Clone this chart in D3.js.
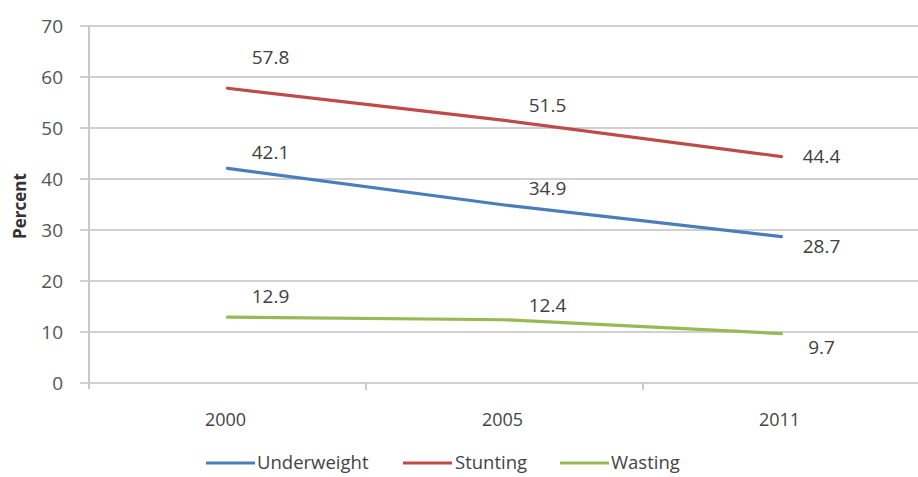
<!DOCTYPE html>
<html>
<head>
<meta charset="utf-8">
<script src="https://cdn.jsdelivr.net/npm/d3@7/dist/d3.min.js"></script>
<style>
  html, body { margin: 0; padding: 0; background: #fff; }
  svg { display: block; font-family: "Open Sans", "Liberation Sans", sans-serif; }
</style>
</head>
<body>
<svg id="chart" width="918" height="477"></svg>
<script>
// Child nutrition indicators by survey year
const years = ["2000", "2005", "2011"];
const underweight = [42.1, 34.9, 28.7];
const stunting = [57.8, 51.5, 44.4];
const wasting = [12.9, 12.4, 9.7];
const seriesNames = ["Underweight", "Stunting", "Wasting"];
const yTicks = [0, 10, 20, 30, 40, 50, 60, 70];

const series = [
  { name: seriesNames[0], values: underweight, color: "#4a7ebb", labelDy: [-16, -17, 10] },
  { name: seriesNames[1], values: stunting, color: "#be4b48", labelDy: [-31, -15, 0] },
  { name: seriesNames[2], values: wasting, color: "#98b954", labelDy: [-21, -14, 14] }
];

const svg = d3.select("#chart");
const plot = { left: 89, right: 920, top: 26, bottom: 383 };

const x = d3.scaleBand().domain(years).range([plot.left, plot.right]);
const y = d3.scaleLinear().domain([0, 70]).range([plot.bottom, plot.top]);

// Horizontal gridlines with short tick stubs on the left
svg.append("g")
  .selectAll("line")
  .data(yTicks)
  .join("line")
  .attr("x1", plot.left - 9)
  .attr("x2", 918)
  .attr("y1", d => y(d))
  .attr("y2", d => y(d))
  .attr("stroke", "#d0d0d0")
  .attr("stroke-width", 2);

// Vertical axis line
svg.append("line")
  .attr("x1", plot.left).attr("x2", plot.left)
  .attr("y1", y(70)).attr("y2", y(0) + 6)
  .attr("stroke", "#c9c9c9").attr("stroke-width", 2);

// Category boundary ticks on the horizontal axis
svg.append("g")
  .selectAll("line")
  .data(years.slice(1))
  .join("line")
  .attr("x1", d => x(d)).attr("x2", d => x(d))
  .attr("y1", y(0)).attr("y2", y(0) + 7)
  .attr("stroke", "#c9c9c9").attr("stroke-width", 2);

// Y tick labels
svg.append("g")
  .selectAll("text")
  .data(yTicks)
  .join("text")
  .attr("x", 63)
  .attr("y", d => y(d))
  .attr("dy", "0.35em")
  .attr("text-anchor", "end")
  .attr("font-size", 19)
  .attr("fill", "#555")
  .text(d => d);

// X category labels
svg.append("g")
  .selectAll("text")
  .data(years)
  .join("text")
  .attr("x", d => x(d) + x.bandwidth() / 2 - 2)
  .attr("y", 420)
  .attr("dy", "0.35em")
  .attr("text-anchor", "middle")
  .attr("font-size", 18)
  .attr("fill", "#444")
  .text(d => d);

// Axis title
svg.append("text")
  .attr("transform", "translate(20,206) rotate(-90)")
  .attr("text-anchor", "middle")
  .attr("dy", "0.35em")
  .attr("font-size", 17)
  .attr("font-weight", "bold")
  .attr("fill", "#333")
  .text("Percent");

const cx = d => x(d) + x.bandwidth() / 2;
const line = d3.line()
  .x((d, i) => cx(years[i]))
  .y(d => y(d));

// Series lines
svg.append("g")
  .selectAll("path")
  .data(series)
  .join("path")
  .attr("d", s => line(s.values))
  .attr("fill", "none")
  .attr("stroke", s => s.color)
  .attr("stroke-width", 3.2)
  .attr("stroke-linecap", "round");

// Value labels
series.forEach(s => {
  svg.append("g")
    .selectAll("text")
    .data(s.values)
    .join("text")
    .attr("x", (d, i) => cx(years[i]) + (i === 2 ? 40 : 43))
    .attr("y", (d, i) => y(d) + s.labelDy[i])
    .attr("dy", "0.35em")
    .attr("text-anchor", "middle")
    .attr("font-size", 19)
    .attr("fill", "#404040")
    .text(d => d.toFixed(1));
});

// Legend
const legendItems = [
  { x: 206, textX: 257 },
  { x: 403, textX: 455 },
  { x: 560, textX: 611 }
];
const legendY = 463;
const legend = svg.append("g");
series.forEach((s, i) => {
  const it = legendItems[i];
  legend.append("line")
    .attr("x1", it.x).attr("x2", it.x + 49)
    .attr("y1", legendY).attr("y2", legendY)
    .attr("stroke", s.color).attr("stroke-width", 3.2);
  legend.append("text")
    .attr("x", it.textX)
    .attr("y", legendY)
    .attr("dy", "0.35em")
    .attr("font-size", 18.5)
    .attr("fill", "#444")
    .text(s.name);
});
</script>
</body>
</html>
